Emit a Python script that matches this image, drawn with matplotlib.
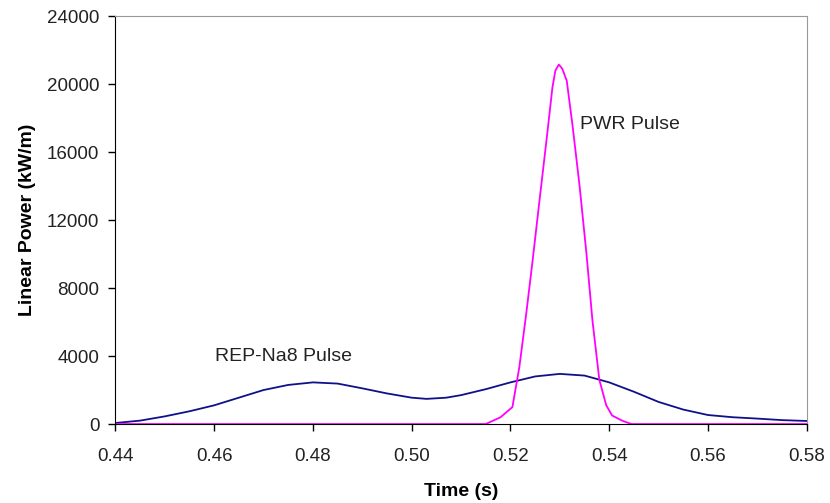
import numpy as np
import matplotlib
matplotlib.use("Agg")
import matplotlib.pyplot as plt

plt.rcParams['font.family'] = ['Liberation Sans', 'DejaVu Sans']

# REP-Na8 pulse (broad, double hump)
rep_t = [0.440, 0.445, 0.450, 0.455, 0.460, 0.465, 0.470, 0.475, 0.480, 0.485,
         0.490, 0.495, 0.500, 0.503, 0.507, 0.510, 0.515, 0.520, 0.525, 0.530,
         0.535, 0.540, 0.545, 0.550, 0.555, 0.560, 0.565, 0.570, 0.575, 0.580]
rep_p = [60, 200, 450, 750, 1100, 1550, 2000, 2300, 2450, 2380,
         2100, 1800, 1550, 1480, 1550, 1700, 2050, 2450, 2800, 2950,
         2850, 2450, 1900, 1300, 850, 530, 400, 320, 230, 180]

# PWR pulse (narrow, tall)
pwr_t = [0.440, 0.5150, 0.5180, 0.5204, 0.5218, 0.5232, 0.5245, 0.5259, 0.5273,
         0.5285, 0.5291, 0.5298, 0.5305, 0.5314, 0.5326, 0.5340, 0.5354, 0.5366,
         0.5380, 0.5394, 0.5406, 0.5426, 0.5445, 0.580]
pwr_p = [0, 0, 400, 1000, 3350, 6500, 9650, 13200, 16700,
         19800, 20800, 21150, 20900, 20200, 17500, 14000, 10000, 6100,
         2600, 1100, 500, 200, 0, 0]

fig = plt.figure(figsize=(8.3, 5.03), dpi=100)
ax = fig.add_axes([0.139, 0.157, 0.833, 0.811])

ax.plot(rep_t, rep_p, color='#10108a', lw=1.3)
ax.plot(pwr_t, pwr_p, color='#ff00ff', lw=1.3)

ax.set_xlim(0.44, 0.58)
ax.set_ylim(0, 24000)
ax.set_xticks(np.arange(0.44, 0.581, 0.02))
ax.set_xticklabels(['0.44', '0.46', '0.48', '0.50', '0.52', '0.54', '0.56', '0.58'])
ax.set_yticks(np.arange(0, 24001, 4000))

ax.tick_params(axis='both', direction='out', length=5, width=1, labelsize=13.5,
               colors='black', labelcolor='#222222')
ax.tick_params(axis='x', pad=12.5)
ax.tick_params(axis='y', pad=6.5)

for side in ['top', 'right']:
    ax.spines[side].set_color('#999999')
for side in ['left', 'bottom']:
    ax.spines[side].set_color('black')

ax.set_xlabel('Time (s)', fontsize=14, fontweight='bold', labelpad=13)
ax.set_ylabel('Linear Power (kW/m)', fontsize=14, fontweight='bold', labelpad=8)

ax.text(0.4602, 3950, 'REP-Na8 Pulse', fontsize=14, color='#222222', va='center')
ax.text(0.5340, 17600, 'PWR Pulse', fontsize=14, color='#222222', va='center')

fig.savefig('out.png', dpi=100)
